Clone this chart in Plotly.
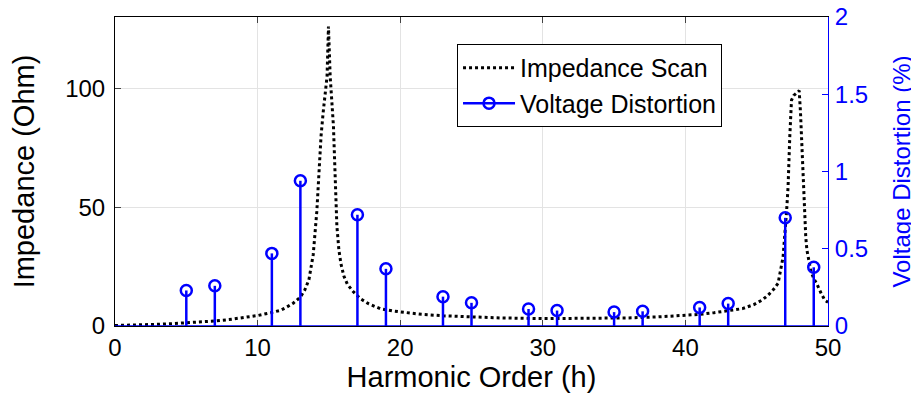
import plotly.graph_objects as go

# Impedance scan
h_scan = [0, 1, 2, 3, 4, 5, 6, 7, 8, 9, 10, 11, 11.6, 12, 12.5, 13, 13.3, 13.6, 13.9,
          14.15, 14.3, 14.45, 14.6, 14.75, 14.87, 14.97, 15.09, 15.2, 15.32, 15.44,
          15.56, 15.7, 15.85, 16.05, 16.3, 16.7, 17.2, 17.8, 18.6, 19.5, 20.5, 21.5,
          23, 25, 27, 30, 33, 36, 38, 40, 41, 42, 43, 44, 44.8, 45.4, 45.8, 46.2,
          46.5, 46.85, 47.1, 47.2, 47.32, 47.44, 47.6, 47.8, 47.98, 48.07, 48.14,
          48.26, 48.35, 48.44, 48.52, 48.6, 48.8, 49.0, 49.2, 49.5, 49.78, 50]
z_scan = [0.2, 0.3, 0.5, 0.7, 1.0, 1.3, 1.7, 2.1, 2.7, 3.4, 4.4, 5.7, 6.6, 7.8, 9.6,
          12.2, 15.0, 19.5, 30, 48, 66, 80, 90, 99, 105, 126, 105, 95, 84, 63,
          42, 32, 26, 21, 17.5, 14.5, 11.5, 9.3, 7.3, 6.3, 5.5, 4.9,
          4.3, 3.8, 3.4, 3.1, 3.1, 3.4, 3.8, 4.4, 4.9, 5.6, 6.3, 7.3, 9.0, 11.0, 13.0, 15.5,
          18, 29, 48.7, 58.6, 79.6, 95, 97, 98, 99, 90, 79.6,
          58.6, 47, 37.5, 32, 29, 23, 20, 17.9, 14, 10.8, 10]

# Voltage distortion stems
harmonics = [5, 7, 11, 13, 17, 19, 23, 25, 29, 31, 35, 37, 41, 43, 47, 49]
vdist = [0.23, 0.26, 0.47, 0.94, 0.72, 0.37, 0.19, 0.15, 0.11, 0.10, 0.09, 0.095,
         0.12, 0.145, 0.70, 0.38]

x_ticks = [0, 10, 20, 30, 40, 50]
y_ticks = [0, 50, 100]
y2_ticks = [0, 0.5, 1, 1.5, 2]
y2_labels = ["0", "0.5", "1", "1.5", "2"]

FONT = "Liberation Sans, Arial, Helvetica, sans-serif"
BLUE = "#0000ff"
FS = 24

stem_x, stem_y = [], []
for h, v in zip(harmonics, vdist):
    stem_x += [h, h, None]
    stem_y += [0, v, None]

fig = go.Figure()
fig.add_trace(go.Scatter(x=h_scan, y=z_scan, mode="lines", name="Impedance Scan",
                         line=dict(color="black", width=3, dash="dot"), yaxis="y"))
fig.add_trace(go.Scatter(x=stem_x, y=stem_y, mode="lines", showlegend=False,
                         line=dict(color=BLUE, width=2.5), yaxis="y2", hoverinfo="skip"))
fig.add_trace(go.Scatter(x=harmonics, y=vdist, mode="markers", showlegend=False,
                         marker=dict(symbol="circle-open", size=11, color=BLUE,
                                     line=dict(width=2.5, color=BLUE)), yaxis="y2"))
fig.add_trace(go.Scatter(x=[None], y=[None], mode="lines+markers", name="Voltage Distortion",
                         line=dict(color=BLUE, width=2.5),
                         marker=dict(symbol="circle-open", size=11, color=BLUE,
                                     line=dict(width=2.5, color=BLUE)), yaxis="y2"))

# stem baseline
fig.add_shape(type="line", xref="paper", x0=0, x1=1, yref="y2", y0=0, y1=0,
              line=dict(color=BLUE, width=1.5))

fig.update_layout(
    width=911, height=388,
    margin=dict(l=107, r=91, t=9, b=70, autoexpand=False),
    paper_bgcolor="white", plot_bgcolor="white",
    font=dict(family=FONT, size=FS, color="black"),
    xaxis=dict(range=[0, 50], tickvals=x_ticks, ticks="inside", ticklen=6,
               showline=True, linecolor="black", linewidth=1, mirror="ticks",
               showgrid=True, gridcolor="#e3e3e3", zeroline=False, automargin=False,
               ticklabeloverflow="allow",
               title=dict(text="Harmonic Order (h)", standoff=2),
               tickfont=dict(size=FS)),
    yaxis=dict(range=[0, 130], tickvals=y_ticks, ticks="inside", ticklen=6,
               showline=True, linecolor="black", linewidth=1, ticklabelstandoff=4,
               showgrid=True, gridcolor="#e3e3e3", zeroline=False, automargin=False,
               ticklabeloverflow="allow",
               title=dict(text="Impedance (Ohm)", standoff=27),
               tickfont=dict(size=FS)),
    yaxis2=dict(range=[0, 2], tickvals=y2_ticks, ticktext=y2_labels, overlaying="y",
                side="right", ticks="inside", ticklen=6, tickcolor=BLUE,
                showline=True, linecolor=BLUE, linewidth=1, showgrid=False,
                ticklabelstandoff=1, ticklabeloverflow="allow",
                zeroline=False, automargin=False, tickfont=dict(size=FS, color=BLUE),
                title=dict(text="Voltage Distortion (%)", font=dict(color=BLUE, size=FS),
                           standoff=26)),
    legend=dict(x=0.4797, y=0.913, xanchor="left", yanchor="top",
                bordercolor="black", borderwidth=1, bgcolor="white",
                font=dict(size=25), tracegroupgap=0, itemwidth=52),
    showlegend=True,
)

fig.write_html("out.html")
